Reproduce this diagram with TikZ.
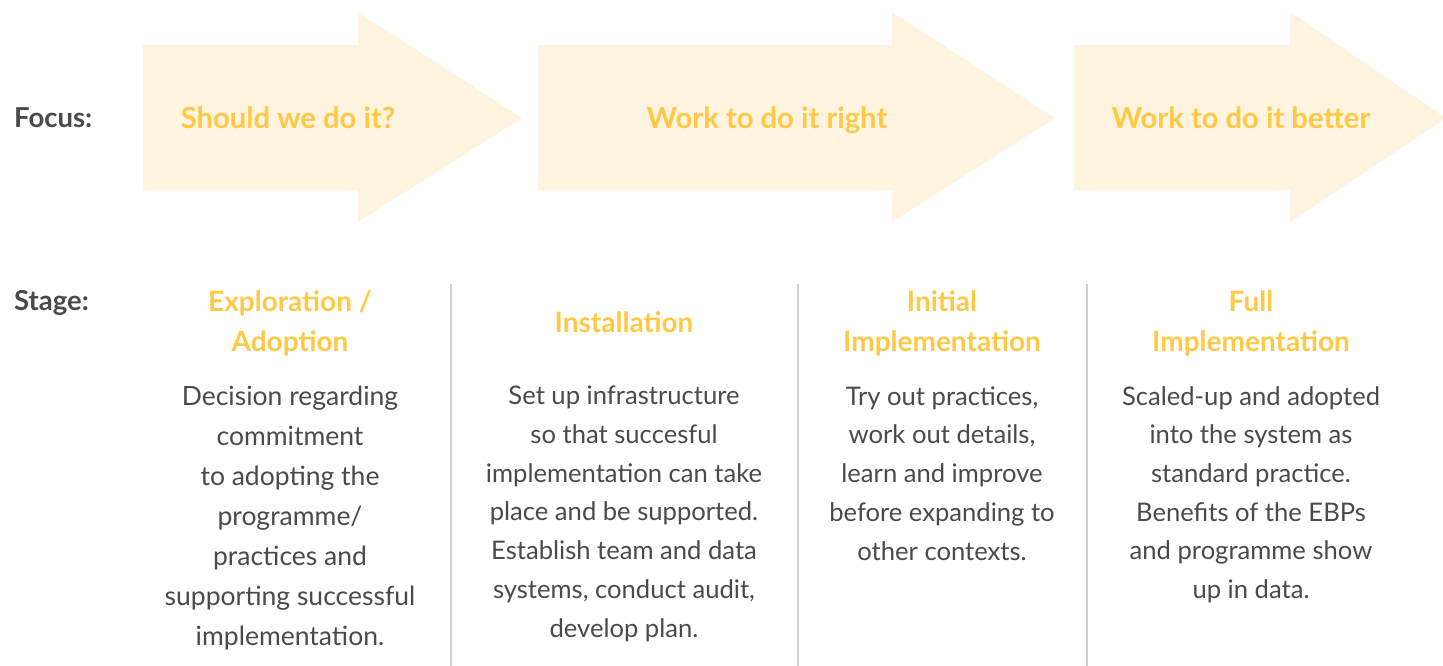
\documentclass[tikz,border=0pt]{standalone}
\usepackage{fontspec}
\setmainfont{Lato}
\definecolor{accent}{HTML}{FFC845}
\definecolor{arrowfill}{HTML}{FFF4E0}
\definecolor{bodytext}{HTML}{4A4A4A}
\definecolor{rule}{HTML}{CFCFCF}
\begin{document}
\begin{tikzpicture}[x=1pt,y=-1pt,
  rowlabel/.style={anchor=base west,inner sep=0pt,text=bodytext,font=\fontsize{27.5}{32}\selectfont\bfseries},
  focustext/.style={anchor=base,inner sep=0pt,text=accent,font=\fontsize{29.2}{34}\selectfont\bfseries},
  stagehead/.style={anchor=base,inner sep=0pt,align=center,text=accent,font=\fontsize{28}{40}\selectfont\bfseries},
  stagebody/.style={anchor=base,inner sep=0pt,align=center,text=bodytext,font=\fontsize{25.6}{38.7}\selectfont},
  divider/.style={draw=rule,line width=2pt},
  focusarrow/.style={fill=arrowfill}]
\useasboundingbox (0,0) rectangle (1443,666);
\clip (0,0) rectangle (1443,666);

% focus arrows
\fill[focusarrow] (143,45) -- (358,45) -- (358,12) -- (522,118) -- (358,222) -- (358,190) -- (143,190) -- cycle;
\fill[focusarrow] (538,45) -- (892,45) -- (892,12) -- (1055,118) -- (892,222) -- (892,190) -- (538,190) -- cycle;
\fill[focusarrow] (1074,45) -- (1290,45) -- (1290,12) -- (1446,118) -- (1290,222) -- (1290,190) -- (1074,190) -- cycle;

% row labels
\node[rowlabel] (focuslbl) at (14,128) {Focus:};
\node[rowlabel] (stagelbl) at (14,310) {Stage:};

% focus texts
\node[focustext] (f1) at (288,129) {Should we do it?};
\node[focustext] (f2) at (767,129) {Work to do it right};
\node[focustext] (f3) at (1241,129) {Work to do it better};

% column dividers
\coordinate (d1t) at (451,284); \coordinate (d1b) at (451,666);
\coordinate (d2t) at (798,284); \coordinate (d2b) at (798,666);
\coordinate (d3t) at (1087,284); \coordinate (d3b) at (1087,666);
\draw[divider] (d1t) -- (d1b);
\draw[divider] (d2t) -- (d2b);
\draw[divider] (d3t) -- (d3b);

% stage headings (anchored at the baseline of their last line)
\node[stagehead] (h1) at (290,351) {Exploration /\\Adoption};
\node[stagehead] (h2) at (624,332) {Installation};
\node[stagehead] (h3) at (942,351) {Initial\\Implementation};
\node[stagehead] (h4) at (1251,351) {Full\\Implementation};

% stage descriptions (anchored at the baseline of their last line)
\node[stagebody,font=\fontsize{26.5}{40}\selectfont] (b1) at (290,645)
  {Decision regarding\\commitment\\to adopting the\\programme/\\practices and\\supporting successful\\implementation.};
\node[stagebody] (b2) at (624,637)
  {Set up infrastructure\\so that succesful\\implementation can take\\place and be supported.\\Establish team and data\\systems, conduct audit,\\develop plan.};
\node[stagebody] (b3) at (942,560)
  {Try out practices,\\work out details,\\learn and improve\\before expanding to\\other contexts.};
\node[stagebody] (b4) at (1251,598.5)
  {Scaled-up and adopted\\into the system as\\standard practice.\\Benefits of the EBPs\\and programme show\\up in data.};
\end{tikzpicture}
\end{document}
